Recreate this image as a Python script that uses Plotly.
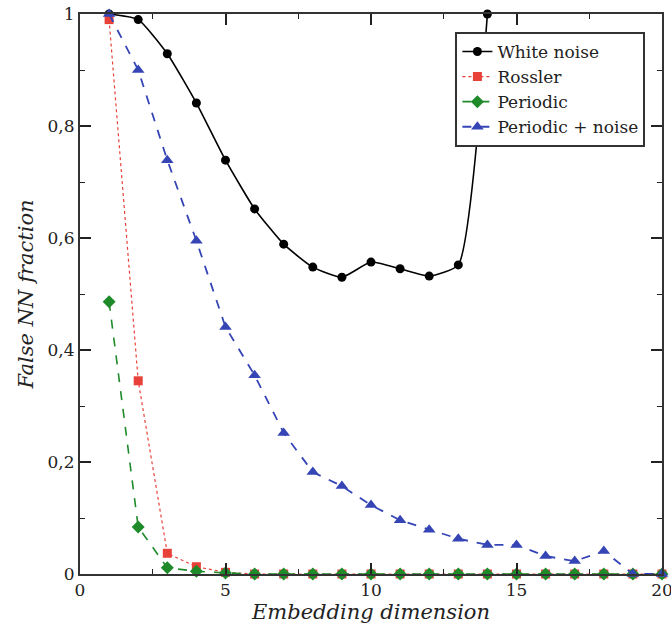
import plotly.graph_objects as go

dims = list(range(1, 21))
white_x = list(range(1, 15))
white_noise = [1.0, 0.99, 0.929, 0.841, 0.739, 0.652, 0.589, 0.548, 0.530, 0.557, 0.545, 0.532, 0.552, 1.0]
rossler = [0.99, 0.345, 0.037, 0.013, 0.003] + [0.0] * 15
periodic = [0.486, 0.084, 0.011, 0.005, 0.002] + [0.0] * 15
periodic_noise = [1.0, 0.90, 0.739, 0.595, 0.441, 0.355, 0.252, 0.182, 0.157, 0.123,
                  0.096, 0.079, 0.063, 0.052, 0.052, 0.032, 0.023, 0.041, 0.0, 0.0]

SERIF = "DejaVu Serif"

fig = go.Figure()
fig.add_trace(go.Scatter(x=white_x, y=white_noise, name="White noise", mode="lines+markers",
                         line=dict(color="black", width=1.6, shape="spline", smoothing=0.5),
                         marker=dict(symbol="circle", size=9, color="black"), cliponaxis=False))
fig.add_trace(go.Scatter(x=dims, y=rossler, name="Rossler", mode="lines+markers",
                         line=dict(color="#e8413a", width=1.2, dash="dot"),
                         marker=dict(symbol="square", size=9, color="#e8413a"), cliponaxis=False))
fig.add_trace(go.Scatter(x=dims, y=periodic, name="Periodic", mode="lines+markers",
                         line=dict(color="#1f8a2a", width=1.6, dash="dash"),
                         marker=dict(symbol="diamond", size=10, color="#1f8a2a"), cliponaxis=False))
fig.add_trace(go.Scatter(x=dims, y=periodic_noise, name="Periodic + noise", mode="lines+markers",
                         line=dict(color="#3545b5", width=1.8, dash="dash"),
                         marker=dict(symbol="triangle-up", size=11, color="#3545b5"), cliponaxis=False))

axis_common = dict(showline=True, linecolor="#333", linewidth=2, mirror="allticks",
                   ticks="inside", ticklen=11, tickwidth=1.6, tickcolor="#222",
                   showgrid=False, zeroline=False, automargin=False, ticklabeloverflow="allow",
                   tickfont=dict(family=SERIF, size=17, color="#222"))
fig.update_xaxes(range=[0, 20], dtick=5, tick0=0,
                 minor=dict(ticks="inside", ticklen=5, tickwidth=1.4, dtick=2.5, tickcolor="#222"),
                 title=dict(text="<i>Embedding dimension</i>", standoff=4,
                            font=dict(family=SERIF, size=21, color="#222")),
                 **axis_common)
fig.update_yaxes(range=[0, 1], dtick=0.2, tick0=0,
                 minor=dict(ticks="inside", ticklen=5, tickwidth=1.4, dtick=0.1, tickcolor="#222"),
                 title=dict(text="<i>False NN fraction</i>", standoff=8,
                            font=dict(family=SERIF, size=21, color="#222")),
                 **axis_common)

fig.update_layout(width=671, height=630, plot_bgcolor="white", paper_bgcolor="white",
                  margin=dict(l=80, r=9, t=14, b=56), separators=", ",
                  legend=dict(x=0.645, y=0.968, xanchor="left", yanchor="top",
                              bgcolor="white", bordercolor="#333", borderwidth=2,
                              font=dict(family=SERIF, size=17, color="#222"),
                              itemwidth=30, tracegroupgap=0))

fig.write_html("out.html")
